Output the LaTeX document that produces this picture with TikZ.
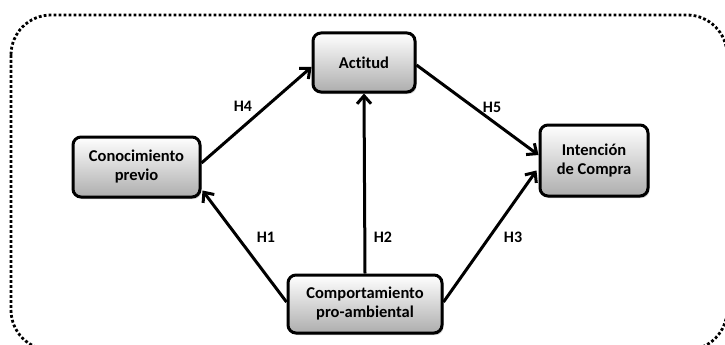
\documentclass[tikz,border=0pt]{standalone}
\usepackage{fontspec}
\setmainfont{Carlito}[Ligatures=NoCommon]
\usetikzlibrary{arrows.meta,shadows,calc}
\begin{document}
\begin{tikzpicture}[x=1pt,y=-1pt,
  box/.style={draw=black,line width=3pt,rounded corners=8pt,top color=white,bottom color=black!32,
    drop shadow={shadow xshift=1.5pt,shadow yshift=-2pt,fill=black!40,opacity=0.5},
    align=center,font=\fontsize{16.5}{19}\selectfont\bfseries,inner sep=0pt},
  conn/.style={line width=3pt,-{Straight Barb[length=8pt,width=14pt,line width=3pt]}},
  lab/.style={font=\fontsize{16}{18}\selectfont\bfseries,inner sep=0pt}]
\useasboundingbox (0,0) rectangle (725,345);
\draw[line width=2.8pt,dash pattern=on 2.8pt off 2.2pt,rounded corners=40pt] (11,15) rectangle (727,350);
\node[box,minimum width=127pt,minimum height=60pt] (cono) at (136.5,167) {Conocimiento\\previo};
\node[box,minimum width=102pt,minimum height=59pt] (act) at (364,62.5) {Actitud};
\node[box,minimum width=108pt,minimum height=71pt] (int) at (594,160.5) {Intención\\de Compra};
\node[box,minimum width=154pt,minimum height=58pt] (comp) at (365,304) {Comportamiento\\pro-ambiental};
\draw[conn] ($(cono.east)+(0,-4)$) -- ($(act.west)+(0,4.5)$);
\draw[conn] ($(act.east)+(0,2.5)$) -- ($(int.west)+(0,-5.5)$);
\draw[conn] (comp.north) -- (act.south);
\draw[conn] ($(comp.west)+(0,-2)$) -- ($(cono.south east)+(1,-8)$);
\draw[conn] ($(comp.east)+(0,-2)$) -- ($(int.west)+(-2,10)$);
\node[lab] (h4) at (243,106) {H4};
\node[lab] (h5) at (492,107) {H5};
\node[lab] (h1) at (266,237) {H1};
\node[lab] (h2) at (383,237) {H2};
\node[lab] (h3) at (513,237) {H3};
\end{tikzpicture}
\end{document}
